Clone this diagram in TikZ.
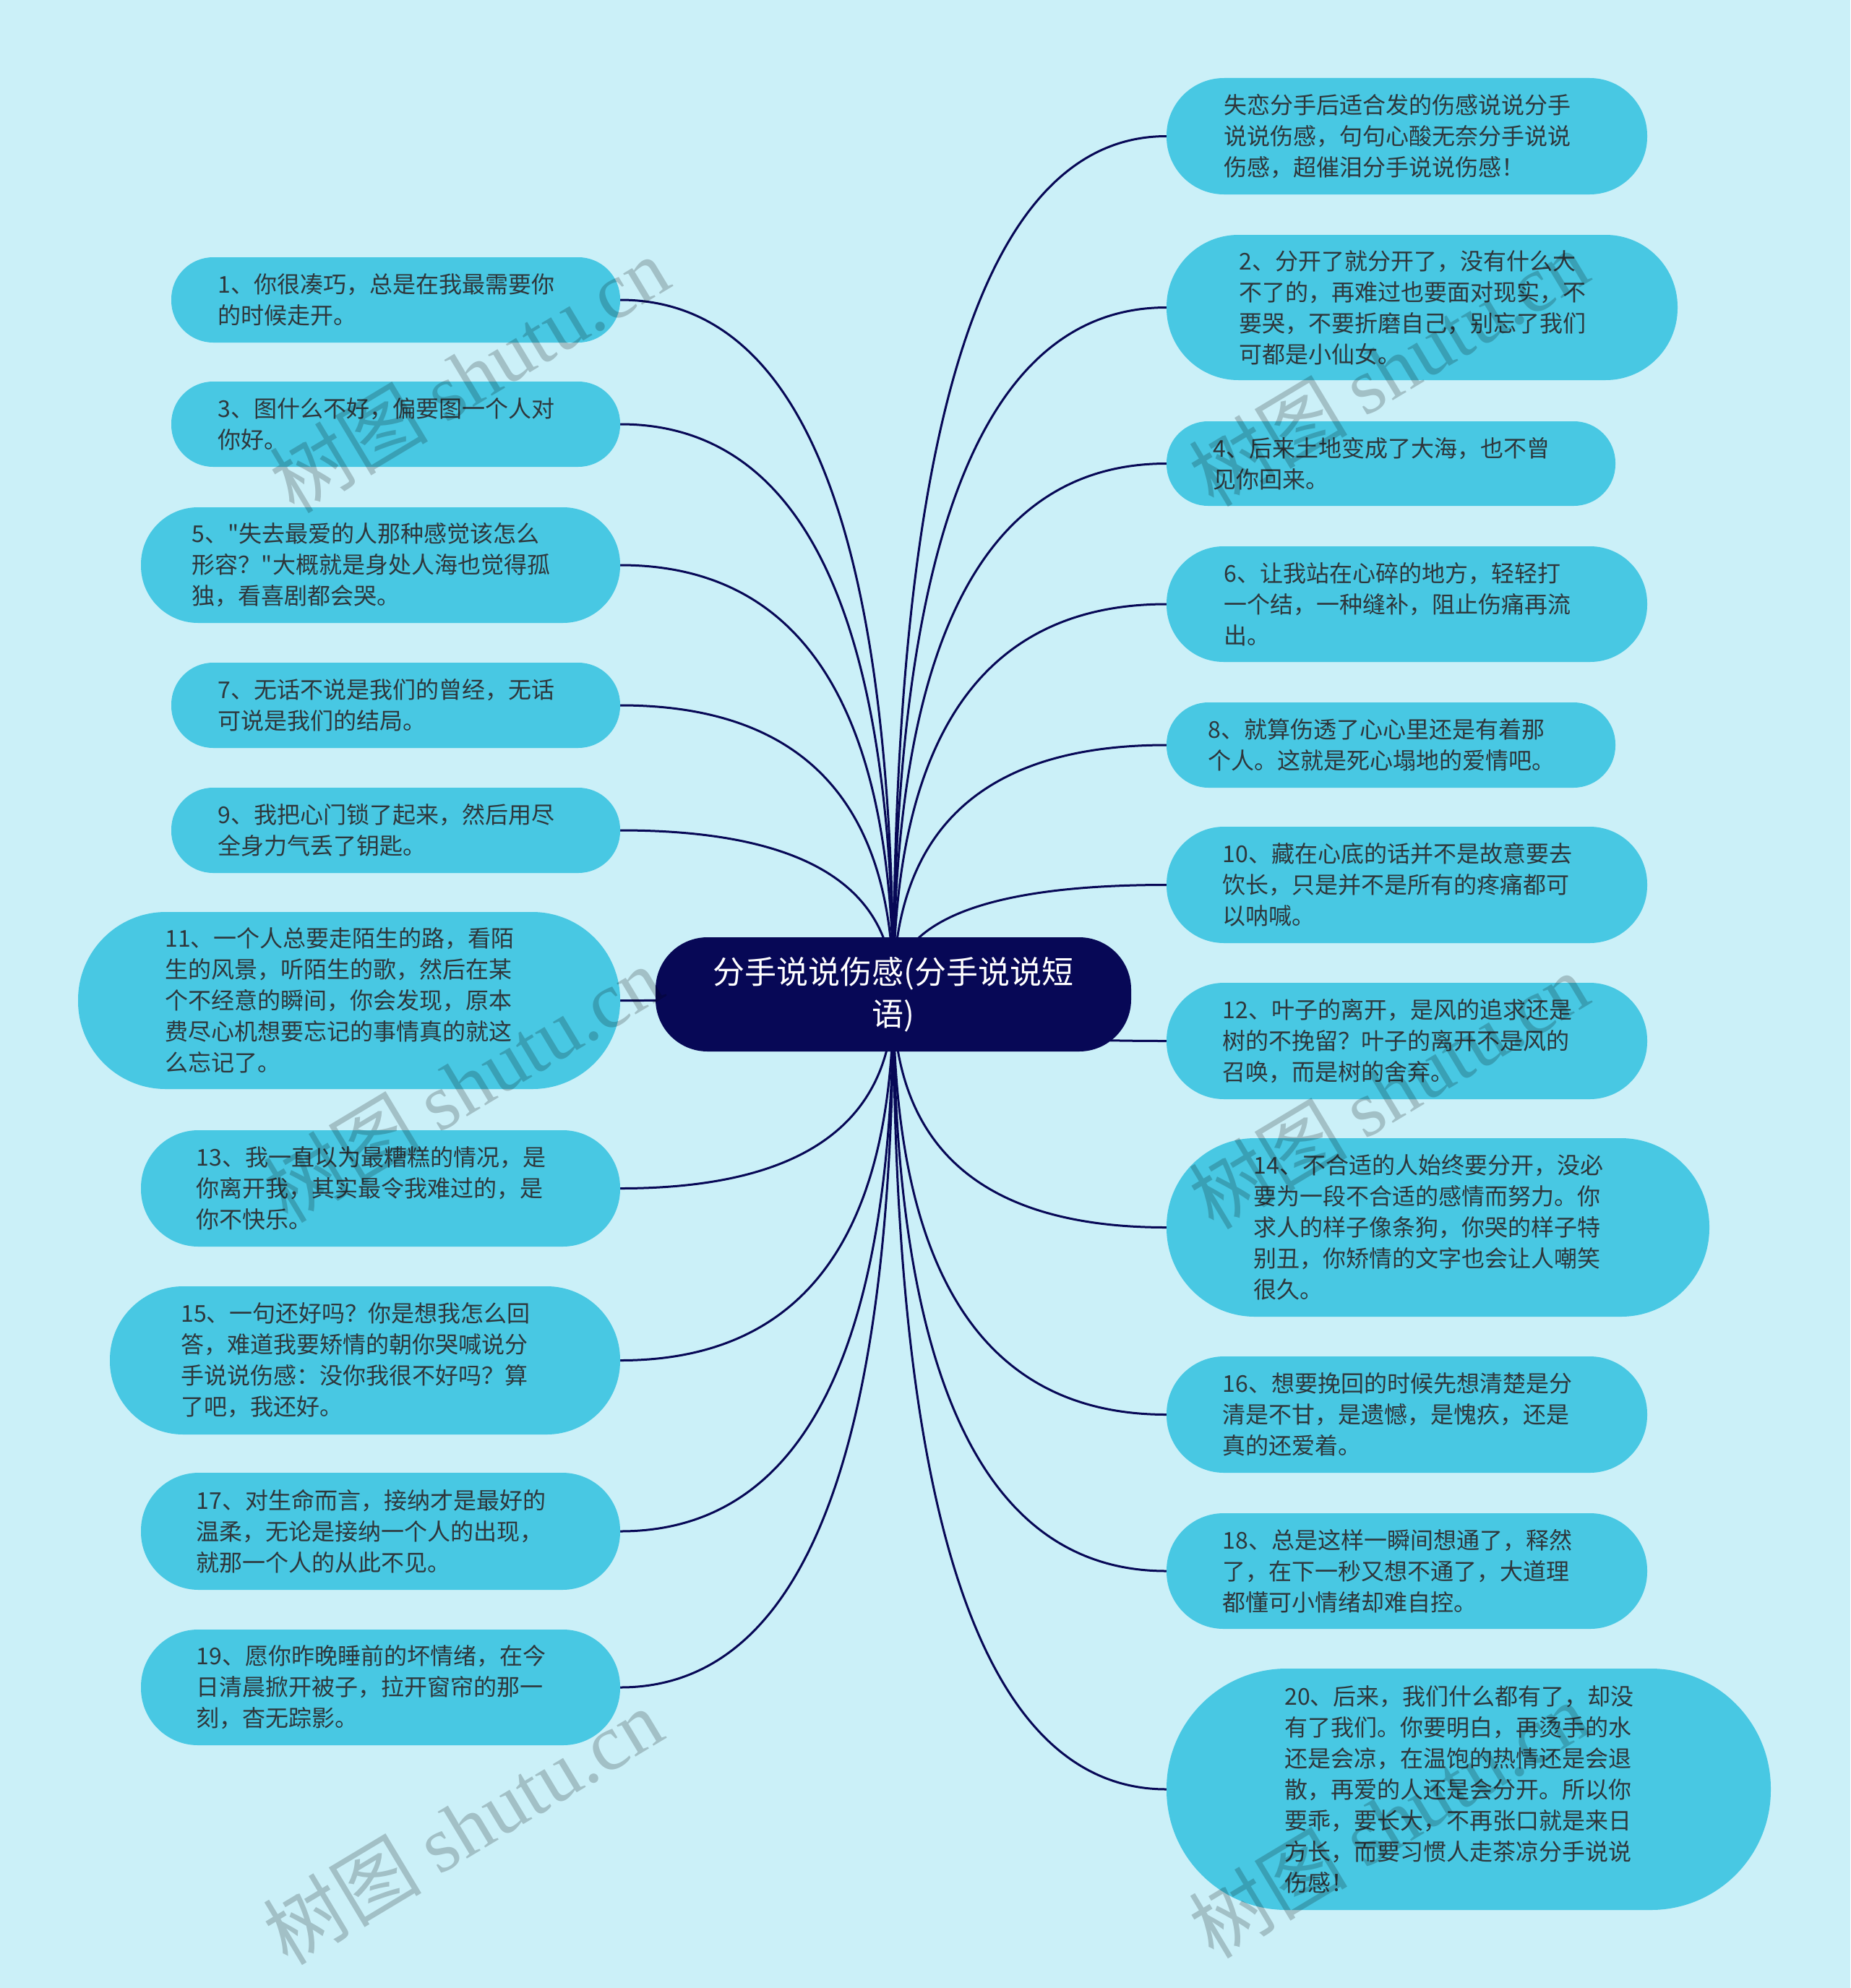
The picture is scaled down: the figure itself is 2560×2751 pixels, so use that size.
\documentclass[tikz,border=0pt]{standalone}
\usepackage{fontspec}
\setmainfont{Noto Sans CJK SC}
\newfontfamily\wmlatin{Liberation Serif}
\usetikzlibrary{calc}
\definecolor{bgc}{HTML}{CBF0F8}
\definecolor{leafc}{HTML}{48C8E3}
\definecolor{navy}{HTML}{070856}
\definecolor{txtc}{HTML}{2E373C}
\pgfdeclarelayer{back}
\pgfsetlayers{back,main}
\newcommand\linkto[2]{%
  \draw[edge] (root.center) .. controls ($(root.center)!2/3!(root.center |- #1.#2)$) and ($(#1.#2)!2/3!(root.center |- #1.#2)$) .. (#1.#2);}
\newcommand\leafnode[6]{%
  \pgfmathsetmacro\rr{#5/2-1}%
  \node[leafbox, minimum width=#4pt, minimum height=#5pt, rounded corners=\rr pt] (#1) at (#2,#3) {};
  \node[leaftext] (#1t) at ([xshift=-13pt]#1.center) {#6};}
\begin{document}
\begin{tikzpicture}[x=1pt,y=-1pt,
  leafbox/.style={fill=leafc, inner sep=0pt},
  leaftext/.style={text=txtc, align=left, inner sep=0pt,
    font=\fontsize{32pt}{43pt}\selectfont},
  rootbox/.style={fill=navy, text=white, align=center, inner sep=0pt,
    font=\fontsize{44pt}{58pt}\selectfont},
  edge/.style={draw=navy, line width=3pt},
  wm/.style={text=black, text opacity=0.2, font=\fontsize{110pt}{110pt}\selectfont, rotate=31, inner sep=0pt}]
\begin{pgfonlayer}{back}
\fill[bgc] (0,0) rectangle (2560,2751);
\end{pgfonlayer}
\useasboundingbox (0,0) rectangle (2560,2751);

% root
\node[rootbox, minimum width=658pt, minimum height=158pt, rounded corners=72pt] (root) at (1236,1376) {分手说说伤感(分手说说短\\语)};

% left leaves
\leafnode{n1}{547.5}{415}{621}{118}{1、你很凑巧，总是在我最需要你\\的时候走开。}
\leafnode{n3}{547.5}{587}{621}{118}{3、图什么不好，偏要图一个人对\\你好。}
\leafnode{n5}{526.5}{782}{663}{160}{5、\textquotedbl 失去最爱的人那种感觉该怎么\\形容？\textquotedbl 大概就是身处人海也觉得孤\\独，看喜剧都会哭。}
\leafnode{n7}{547.5}{976}{621}{118}{7、无话不说是我们的曾经，无话\\可说是我们的结局。}
\leafnode{n9}{547.5}{1149}{621}{118}{9、我把心门锁了起来，然后用尽\\全身力气丢了钥匙。}
\leafnode{n11}{483}{1384.5}{750}{245}{11、一个人总要走陌生的路，看陌\\生的风景，听陌生的歌，然后在某\\个不经意的瞬间，你会发现，原本\\费尽心机想要忘记的事情真的就这\\么忘记了。}
\leafnode{n13}{526.5}{1644.5}{663}{161}{13、我一直以为最糟糕的情况，是\\你离开我，其实最令我难过的，是\\你不快乐。}
\leafnode{n15}{505}{1882.5}{706}{205}{15、一句还好吗？你是想我怎么回\\答，难道我要矫情的朝你哭喊说分\\手说说伤感：没你我很不好吗？算\\了吧，我还好。}
\leafnode{n17}{526.5}{2119}{663}{162}{17、对生命而言，接纳才是最好的\\温柔，无论是接纳一个人的出现，\\就那一个人的从此不见。}
\leafnode{n19}{526.5}{2335}{663}{160}{19、愿你昨晚睡前的坏情绪，在今\\日清晨掀开被子，拉开窗帘的那一\\刻，杳无踪影。}

% right leaves
\leafnode{n0}{1946.5}{188.5}{665}{161}{失恋分手后适合发的伤感说说分手\\说说伤感，句句心酸无奈分手说说\\伤感，超催泪分手说说伤感！}
\leafnode{n2}{1967.5}{425.5}{707}{201}{2、分开了就分开了，没有什么大\\不了的，再难过也要面对现实，不\\要哭，不要折磨自己，别忘了我们\\可都是小仙女。}
\leafnode{n4}{1924.5}{641.5}{621}{117}{4、后来土地变成了大海，也不曾\\见你回来。}
\leafnode{n6}{1946.5}{836}{665}{160}{6、让我站在心碎的地方，轻轻打\\一个结，一种缝补，阻止伤痛再流\\出。}
\leafnode{n8}{1924.5}{1031}{621}{118}{8、就算伤透了心心里还是有着那\\个人。这就是死心塌地的爱情吧。}
\leafnode{n10}{1946.5}{1224.5}{665}{161}{10、藏在心底的话并不是故意要去\\饮长，只是并不是所有的疼痛都可\\以呐喊。}
\leafnode{n12}{1946.5}{1440.5}{665}{161}{12、叶子的离开，是风的追求还是\\树的不挽留？叶子的离开不是风的\\召唤，而是树的舍弃。}
\leafnode{n14}{1989.5}{1698.5}{751}{247}{14、不合适的人始终要分开，没必\\要为一段不合适的感情而努力。你\\求人的样子像条狗，你哭的样子特\\别丑，你矫情的文字也会让人嘲笑\\很久。}
\leafnode{n16}{1946.5}{1957.5}{665}{161}{16、想要挽回的时候先想清楚是分\\清是不甘，是遗憾，是愧疚，还是\\真的还爱着。}
\leafnode{n18}{1946.5}{2174}{665}{160}{18、总是这样一瞬间想通了，释然\\了，在下一秒又想不通了，大道理\\都懂可小情绪却难自控。}
\leafnode{n20}{2032}{2476}{836}{334}{20、后来，我们什么都有了，却没\\有了我们。你要明白，再烫手的水\\还是会凉，在温饱的热情还是会退\\散，再爱的人还是会分开。所以你\\要乖，要长大，不再张口就是来日\\方长，而要习惯人走茶凉分手说说\\伤感！}

% connectors
\begin{pgfonlayer}{back}
\foreach \n in {n1,n3,n5,n7,n9,n11,n13,n15,n17,n19} {\linkto{\n}{east}}
\foreach \n in {n0,n2,n4,n6,n8,n10,n12,n14,n16,n18,n20} {\linkto{\n}{west}}
\end{pgfonlayer}

% watermarks
\node[wm] (w1) at (649,518) {树图 {\wmlatin shutu.cn}};
\node[wm] (w2) at (640,1500) {树图 {\wmlatin shutu.cn}};
\node[wm] (w3) at (640,2527) {树图 {\wmlatin shutu.cn}};
\node[wm] (w4) at (1921,509) {树图 {\wmlatin shutu.cn}};
\node[wm] (w5) at (1921,1509) {树图 {\wmlatin shutu.cn}};
\node[wm] (w6) at (1921,2518) {树图 {\wmlatin shutu.cn}};
\end{tikzpicture}
\end{document}
